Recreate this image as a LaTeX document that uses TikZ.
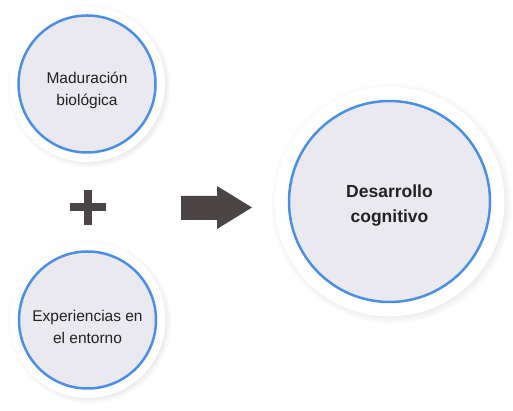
\documentclass[tikz,border=0pt]{standalone}
\usepackage{fontspec}
\setmainfont{Liberation Sans}
\usetikzlibrary{shadows}
\definecolor{relleno}{HTML}{EAE9F0}
\definecolor{borde}{HTML}{4A8FE7}
\definecolor{oscuro}{HTML}{4B4546}
\definecolor{texto}{HTML}{222222}
\begin{document}
\begin{tikzpicture}[x=1pt, y=1pt]
 \tikzstyle{halo}=[circle, fill=white, circular drop shadow={shadow scale=1.05, opacity=0.3}]
 \tikzstyle{burbuja}=[circle, draw=borde, line width=2.5pt, fill=relleno]
 \tikzstyle{rotulo}=[text=texto, align=center, font=\fontsize{15.5}{22}\selectfont]
 \tikzstyle{rotulog}=[rotulo, font=\fontsize{17.5}{25}\selectfont\bfseries]
 \useasboundingbox (0,0) rectangle (513,411);
 %
 \node[halo, minimum size=156pt] (Hmad) at (87,327) {};
 \node[halo, minimum size=156pt] (Hexp) at (87.5,91) {};
 \node[halo, minimum size=230pt] (Hdes) at (389.5,209.5) {};
 %
 \node[burbuja, minimum size=137pt] (mad) at (Hmad) {};
 \node[burbuja, minimum size=137pt] (exp) at (Hexp) {};
 \node[burbuja, minimum size=201pt] (des) at (Hdes) {};
 %
 \node[rotulo] (Tmad) at ([yshift=-6.5pt]mad) {Maduración\\biológica};
 \node[rotulo] (Texp) at ([yshift=-6.5pt]exp) {Experiencias en\\el entorno};
 \node[rotulog] (Tdes) at ([yshift=-4.5pt]des) {Desarrollo\\cognitivo};
 %%
 \fill[oscuro] (70,200) rectangle (106,208);
 \fill[oscuro] (83.5,186) rectangle (91.5,221);
 \fill[oscuro] (181,191) -- (217,191) -- (217,182) -- (252,203.5) -- (217,225) -- (217,215) -- (181,215) -- cycle;
\end{tikzpicture}
\end{document}
